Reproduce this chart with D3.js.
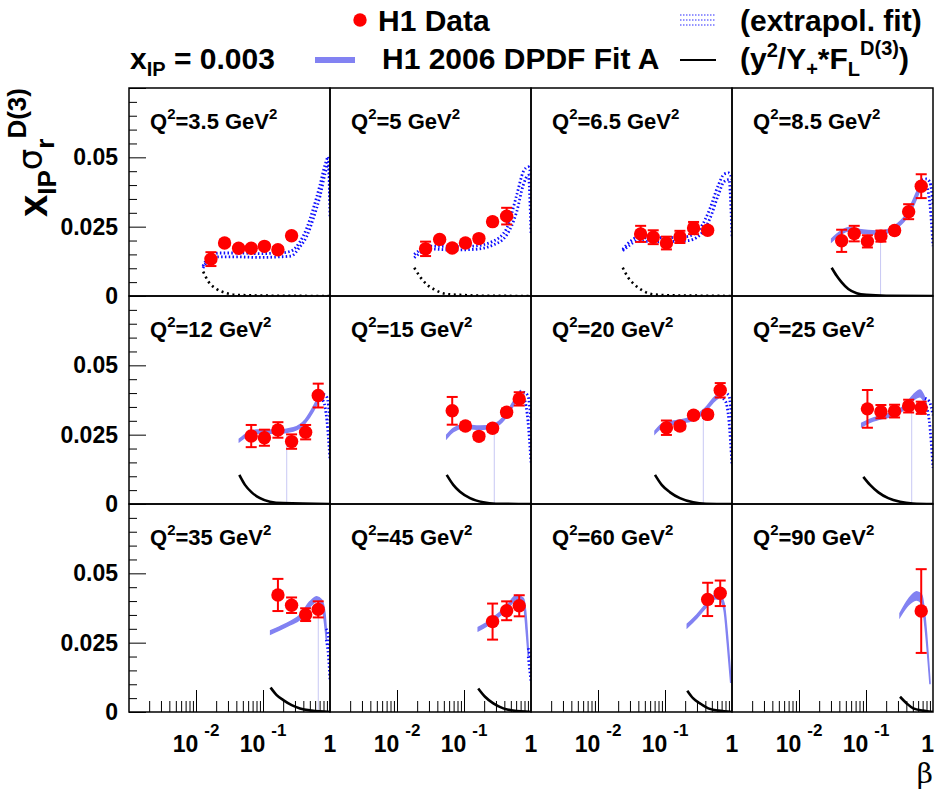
<!DOCTYPE html>
<html>
<head>
<meta charset="utf-8">
<script src="https://cdn.jsdelivr.net/npm/d3@7"></script>
<style>
  body { margin: 0; background: #fff; }
  svg { font-family: "Liberation Sans", Arial, Helvetica, sans-serif; font-weight: bold; }
</style>
</head>
<body>
<div id="chart"></div>
<script>
// Q2 bins, one panel each (x_IP = 0.003)
const q2Values = ["3.5", "5", "6.5", "8.5", "12", "15", "20", "25", "35", "45", "60", "90"];

// H1 data points per panel
const dataBeta = [
    [0.0167, 0.0267, 0.0433, 0.0667, 0.105, 0.167, 0.267],
    [0.0267, 0.0433, 0.0667, 0.105, 0.167, 0.267, 0.433],
    [0.0433, 0.0667, 0.105, 0.167, 0.267, 0.433],
    [0.0433, 0.0667, 0.105, 0.167, 0.267, 0.433, 0.667],
    [0.0667, 0.105, 0.167, 0.267, 0.433, 0.667],
    [0.0667, 0.105, 0.167, 0.267, 0.433, 0.667],
    [0.105, 0.167, 0.267, 0.433, 0.667],
    [0.105, 0.167, 0.267, 0.433, 0.667],
    [0.167, 0.267, 0.433, 0.667],
    [0.267, 0.433, 0.667],
    [0.433, 0.667],
    [0.667]
];
const dataSigma = [
    [0.0133, 0.0191, 0.0172, 0.0172, 0.0179, 0.0167, 0.0217],
    [0.0170, 0.0204, 0.0173, 0.0191, 0.0207, 0.0268, 0.0288],
    [0.0224, 0.0212, 0.0191, 0.0213, 0.0245, 0.0237],
    [0.0199, 0.0225, 0.0197, 0.0216, 0.0236, 0.0304, 0.0396],
    [0.0245, 0.0239, 0.0267, 0.0225, 0.0259, 0.0391],
    [0.0336, 0.0281, 0.0244, 0.0273, 0.0331, 0.0379],
    [0.0275, 0.0281, 0.0320, 0.0323, 0.0410],
    [0.0343, 0.0333, 0.0335, 0.0353, 0.0347],
    [0.0422, 0.0385, 0.0351, 0.0370],
    [0.0326, 0.0365, 0.0383],
    [0.0406, 0.0428],
    [0.0364]
];
const dataError = [
    [0.0025, 0.0010, 0.0010, 0.0009, 0.0010, 0.0010, 0.0011],
    [0.0026, 0.0010, 0.0010, 0.0010, 0.0011, 0.0012, 0.0030],
    [0.0029, 0.0025, 0.0023, 0.0022, 0.0022, 0.0012],
    [0.0040, 0.0028, 0.0022, 0.0020, 0.0012, 0.0027, 0.0043],
    [0.0040, 0.0029, 0.0028, 0.0026, 0.0026, 0.0043],
    [0.0050, 0.0012, 0.0012, 0.0012, 0.0013, 0.0024],
    [0.0026, 0.0012, 0.0012, 0.0013, 0.0026],
    [0.0068, 0.0024, 0.0023, 0.0023, 0.0022],
    [0.0058, 0.0028, 0.0023, 0.0029],
    [0.0065, 0.0034, 0.0038],
    [0.0060, 0.0046],
    [0.0151]
];

// Fit A band inside the fit range: [beta, low, high]
const fitBand = [
    [], [], [],
    [[0.0307, 0.0196, 0.0206], [0.0409, 0.0220, 0.0232], [0.0544, 0.0234, 0.0246], [0.0912, 0.0226, 0.0238], [0.162, 0.0223, 0.0234], [0.256, 0.0238, 0.0250], [0.405, 0.0282, 0.0298], [0.571, 0.0352, 0.0376], [0.678, 0.0400, 0.0418]],
    [[0.0443, 0.0225, 0.0234], [0.0571, 0.0243, 0.0255], [0.0806, 0.0255, 0.0267], [0.160, 0.0255, 0.0267], [0.283, 0.0263, 0.0275], [0.424, 0.0291, 0.0303], [0.564, 0.0335, 0.0351], [0.701, 0.0381, 0.0396]],
    [[0.0552, 0.0237, 0.0249], [0.0692, 0.0261, 0.0273], [0.0977, 0.0273, 0.0285], [0.173, 0.0269, 0.0281], [0.274, 0.0275, 0.0287], [0.409, 0.0307, 0.0321], [0.544, 0.0354, 0.0369], [0.678, 0.0391, 0.0405]],
    [[0.0709, 0.0254, 0.0263], [0.0944, 0.0279, 0.0291], [0.167, 0.0291, 0.0303], [0.264, 0.0303, 0.0315], [0.395, 0.0331, 0.0345], [0.526, 0.0367, 0.0381], [0.662, 0.0387, 0.0403]],
    [[0.0862, 0.0279, 0.0291], [0.115, 0.0295, 0.0306], [0.162, 0.0306, 0.0318], [0.256, 0.0318, 0.0331], [0.382, 0.0343, 0.0357], [0.508, 0.0375, 0.0393], [0.640, 0.0387, 0.0411], [0.760, 0.0363, 0.0381]],
    [[0.130, 0.0281, 0.0293], [0.179, 0.0296, 0.0308], [0.253, 0.0314, 0.0326], [0.357, 0.0334, 0.0350], [0.503, 0.0380, 0.0398], [0.633, 0.0398, 0.0416], [0.752, 0.0380, 0.0404], [0.842, 0.0308, 0.0356], [0.88, 0.0260, 0.0300]],
    [[0.163, 0.0293, 0.0305], [0.218, 0.0310, 0.0322], [0.308, 0.0338, 0.0350], [0.434, 0.0368, 0.0382], [0.612, 0.0406, 0.0422], [0.767, 0.0392, 0.0410], [0.85, 0.0290, 0.0340], [0.91, 0.0200, 0.0230]],
    [[0.215, 0.0305, 0.0317], [0.297, 0.0338, 0.0350], [0.419, 0.0380, 0.0392], [0.557, 0.0408, 0.0422], [0.662, 0.0406, 0.0422], [0.760, 0.0368, 0.0392], [0.851, 0.0248, 0.0284], [0.957, 0.0105, 0.0125]],
    [[0.322, 0.0344, 0.0356], [0.428, 0.0386, 0.0406], [0.571, 0.0404, 0.0434], [0.678, 0.0392, 0.0422], [0.760, 0.0308, 0.0344], [0.902, 0.0100, 0.0108]]
];

// extrapolated fit (dotted): [beta, low, high]
const extBand = [
    [[0.0127, 0.0101, 0.0108], [0.0156, 0.0130, 0.0141], [0.0220, 0.0141, 0.0155], [0.0438, 0.0141, 0.0155], [0.0871, 0.0139, 0.0153], [0.173, 0.0141, 0.0155], [0.262, 0.0144, 0.0162], [0.357, 0.0178, 0.0196], [0.449, 0.0215, 0.0244], [0.564, 0.0280, 0.0316], [0.709, 0.0360, 0.0400], [0.842, 0.0440, 0.0472], [0.944, 0.0480, 0.0502], [1.0, 0.0281, 0.0346]],
    [[0.0181, 0.0138, 0.0150], [0.0220, 0.0155, 0.0166], [0.0277, 0.0170, 0.0180], [0.0692, 0.0166, 0.0178], [0.138, 0.0168, 0.0180], [0.274, 0.0184, 0.0198], [0.434, 0.0220, 0.0244], [0.612, 0.0304, 0.0364], [0.767, 0.0400, 0.0448], [0.912, 0.0436, 0.0466], [1.0, 0.0226, 0.0436]],
    [[0.0234, 0.0163, 0.0168], [0.0300, 0.0184, 0.0196], [0.0378, 0.0198, 0.0210], [0.0842, 0.0196, 0.0210], [0.211, 0.0199, 0.0214], [0.333, 0.0220, 0.0244], [0.470, 0.0280, 0.0316], [0.625, 0.0364, 0.0400], [0.760, 0.0412, 0.0439], [0.90, 0.0420, 0.0444], [1.0, 0.0214, 0.0420]],
    [[0.678, 0.0400, 0.0418], [0.80, 0.0395, 0.0422], [0.90, 0.0330, 0.0410], [1.0, 0.0180, 0.0330]],
    [[0.701, 0.0381, 0.0396], [0.80, 0.0370, 0.0395], [0.90, 0.0300, 0.0385], [1.0, 0.0160, 0.0300]],
    [[0.678, 0.0391, 0.0405], [0.80, 0.0375, 0.0402], [0.90, 0.0300, 0.0390], [1.0, 0.0150, 0.0300]],
    [[0.662, 0.0387, 0.0403], [0.80, 0.0370, 0.0400], [0.90, 0.0300, 0.0390], [1.0, 0.0140, 0.0290]],
    [[0.760, 0.0363, 0.0381], [0.88, 0.0300, 0.0370], [1.0, 0.0130, 0.0320]],
    [[0.88, 0.0260, 0.0300], [0.95, 0.0200, 0.0270], [1.0, 0.0115, 0.0220]],
    [[0.91, 0.0200, 0.0230], [1.0, 0.0110, 0.0190]],
    [], []
];

// y^2/Y+ * F_L^D(3) contribution: [beta, value]
const flCurve = [
    [[0.0128, 0.0088], [0.0153, 0.0052], [0.0204, 0.0025], [0.0287, 0.0010], [0.0405, 0.0004], [0.08, 0.0002], [0.3, 0.00005], [1, 0]],
    [[0.0181, 0.0102], [0.0220, 0.0070], [0.0277, 0.0042], [0.0371, 0.0022], [0.0552, 0.0007], [0.0871, 0.0004], [0.2, 0.0001], [1, 0]],
    [[0.0234, 0.0102], [0.0283, 0.0066], [0.0357, 0.0040], [0.0474, 0.0018], [0.0669, 0.0006], [0.15, 0.0002], [0.4, 0.0001], [1, 0]],
    [[0.0307, 0.0102], [0.0365, 0.0073], [0.0434, 0.0049], [0.0544, 0.0025], [0.0726, 0.0010], [0.102, 0.0004], [0.2, 0.0001], [1, 0]],
    [[0.0443, 0.0105], [0.0538, 0.0069], [0.0678, 0.0042], [0.0902, 0.0021], [0.127, 0.0008], [0.201, 0.0003], [1, 0]],
    [[0.0552, 0.0105], [0.0692, 0.0069], [0.0871, 0.0044], [0.123, 0.0021], [0.194, 0.0006], [0.30, 0.0001], [1, 0]],
    [[0.0709, 0.0105], [0.0893, 0.0069], [0.119, 0.0042], [0.167, 0.0021], [0.264, 0.0006], [0.41, 0.0001], [1, 0]],
    [[0.0912, 0.0098], [0.115, 0.0069], [0.153, 0.0042], [0.215, 0.0021], [0.322, 0.0008], [0.5, 0.0002], [1, 0]],
    [[0.130, 0.0088], [0.160, 0.0061], [0.201, 0.0043], [0.268, 0.0025], [0.357, 0.0013], [0.533, 0.0005], [1, 0]],
    [[0.163, 0.0085], [0.206, 0.0055], [0.274, 0.0031], [0.386, 0.0013], [0.544, 0.0005], [1, 0]],
    [[0.215, 0.0077], [0.264, 0.0049], [0.333, 0.0031], [0.443, 0.0013], [0.625, 0.0005], [1, 0]],
    [[0.322, 0.0055], [0.405, 0.0031], [0.508, 0.0013], [0.716, 0.0005], [1, 0]]
];
const flExtrapolated = [true, true, true, false, false, false, false, false, false, false, false, false];

// thin vertical edge of the band polygon: [beta, top value] or null
const bandEdge = [null, null, null, [0.165, 0.0196], [0.226, 0.0245], [0.283, 0.0275], [0.373, 0.0335], [0.481, 0.0375], [0.668, 0.041], null, null, null];

// axis ticks
const yTickValues = [0, 0.025, 0.05];
const yTickLabels = ["0", "0.025", "0.05"];
const xMajorTicks = [0.01, 0.1];
const xLabelBase = ["10", "10", "1"];
const xLabelExp = ["-2", "-1", ""];
const xLabelAt = [0.01, 0.1, 1];

// layout
const W = 935, H = 790;
const gridLeft = 129, gridTop = 88, panelW = 201, panelH = 208, nCols = 4, nRows = 3;
const fitColor = "#8282f2", extColor = "#0c0cff", dataColor = "#ff0000";

const svg = d3.select("#chart").append("svg")
    .attr("width", W)
    .attr("height", H);

const xScaleFor = col => d3.scaleLog().domain([1e-3, 1])
    .range([gridLeft + col * panelW, gridLeft + (col + 1) * panelW]);
const yScaleFor = row => d3.scaleLinear().domain([0, 0.075])
    .range([gridTop + (row + 1) * panelH, gridTop + row * panelH]);

const defs = svg.append("defs");

q2Values.forEach((q2, i) => {
    const col = i % nCols, row = Math.floor(i / nCols);
    const x = xScaleFor(col), y = yScaleFor(row);
    const x0 = x.range()[0], yTop = y.range()[1], yBot = y.range()[0];

    defs.append("clipPath").attr("id", "clip" + i)
        .append("rect").attr("x", x0).attr("y", yTop).attr("width", panelW).attr("height", panelH);

    const g = svg.append("g");
    const inner = g.append("g").attr("clip-path", `url(#clip${i})`);

    const area = d3.area().x(d => x(d[0])).y0(d => y(d[1])).y1(d => y(d[2])).curve(d3.curveMonotoneX);
    const lowLine = d3.line().x(d => x(d[0])).y(d => y(d[1])).curve(d3.curveMonotoneX);
    const highLine = d3.line().x(d => x(d[0])).y(d => y(d[2])).curve(d3.curveMonotoneX);
    const flLine = d3.line().x(d => x(d[0])).y(d => y(d[1])).curve(d3.curveMonotoneX);

    // band edge
    if (bandEdge[i]) {
        inner.append("line")
            .attr("x1", x(bandEdge[i][0])).attr("x2", x(bandEdge[i][0]))
            .attr("y1", y(bandEdge[i][1])).attr("y2", yBot)
            .attr("stroke", "#c8c8f4").attr("stroke-width", 1);
    }

    // fitted band
    if (fitBand[i].length) {
        inner.append("path").datum(fitBand[i])
            .attr("d", area)
            .attr("fill", fitColor)
            .attr("stroke", fitColor)
            .attr("stroke-width", 1.5);
    }

    // extrapolated band
    if (extBand[i].length) {
        [lowLine, highLine].forEach(l => {
            inner.append("path").datum(extBand[i])
                .attr("d", l)
                .attr("fill", "none")
                .attr("stroke", extColor)
                .attr("stroke-width", 2.8)
                .attr("stroke-dasharray", "1.5,2.3");
        });
    }

    // F_L curve
    inner.append("path").datum(flCurve[i])
        .attr("d", flLine)
        .attr("fill", "none")
        .attr("stroke", "#000")
        .attr("stroke-width", flExtrapolated[i] ? 2.6 : 2.6)
        .attr("stroke-dasharray", flExtrapolated[i] ? "2,3.6" : null);

    // data points with error bars
    const pts = dataBeta[i].map((b, k) => ({ b, v: dataSigma[i][k], e: dataError[i][k] }));
    const bars = g.selectAll(".err" + i).data(pts).enter().append("g");
    bars.append("line")
        .attr("x1", d => x(d.b)).attr("x2", d => x(d.b))
        .attr("y1", d => y(d.v - d.e)).attr("y2", d => y(d.v + d.e))
        .attr("stroke", dataColor).attr("stroke-width", 2);
    bars.append("line")
        .attr("x1", d => x(d.b) - 5.5).attr("x2", d => x(d.b) + 5.5)
        .attr("y1", d => y(d.v - d.e)).attr("y2", d => y(d.v - d.e))
        .attr("stroke", dataColor).attr("stroke-width", 2);
    bars.append("line")
        .attr("x1", d => x(d.b) - 5.5).attr("x2", d => x(d.b) + 5.5)
        .attr("y1", d => y(d.v + d.e)).attr("y2", d => y(d.v + d.e))
        .attr("stroke", dataColor).attr("stroke-width", 2);
    bars.append("circle")
        .attr("cx", d => x(d.b)).attr("cy", d => y(d.v))
        .attr("r", 6.7)
        .attr("fill", dataColor);

    // Q2 label
    const lab = g.append("text")
        .attr("x", x0 + 21).attr("y", yTop + 41)
        .attr("font-size", 22);
    lab.append("tspan").text("Q");
    lab.append("tspan").attr("font-size", 15).attr("dy", -10).text("2");
    lab.append("tspan").attr("dy", 10).text("=" + q2 + " GeV");
    lab.append("tspan").attr("font-size", 15).attr("dy", -10).text("2");

    // y axis on first column
    if (col === 0) {
        const minor = d3.range(0, 0.0751, 0.005).filter(v => Math.abs(v / 0.025 - Math.round(v / 0.025)) > 1e-6);
        g.append("g").attr("transform", `translate(${x0},0)`)
            .call(d3.axisRight(y).tickValues(minor).tickSize(8).tickFormat(""))
            .call(a => a.select(".domain").remove());
        g.append("g").attr("transform", `translate(${x0},0)`)
            .call(d3.axisRight(y).tickValues([0, 0.025, 0.05, 0.075]).tickSize(17).tickFormat(""))
            .call(a => a.select(".domain").remove());
        g.append("g").attr("transform", `translate(${x0},0)`)
            .call(d3.axisLeft(y).tickValues(yTickValues).tickSize(0).tickPadding(11)
                .tickFormat((d, k) => yTickLabels[k]))
            .call(a => a.select(".domain").remove())
            .attr("font-size", 23)
            .attr("font-family", "Liberation Sans, Arial, sans-serif")
            .attr("font-weight", "bold");
    }

    // x axis on bottom row
    if (row === nRows - 1) {
        const minor = [];
        [1e-3, 1e-2, 1e-1].forEach(dec => d3.range(2, 10).forEach(m => minor.push(dec * m)));
        g.append("g").attr("transform", `translate(0,${yBot})`)
            .call(d3.axisTop(x).tickValues(minor).tickSize(11).tickFormat(""))
            .call(a => a.select(".domain").remove());
        g.append("g").attr("transform", `translate(0,${yBot})`)
            .call(d3.axisTop(x).tickValues(xMajorTicks).tickSize(22).tickFormat(""))
            .call(a => a.select(".domain").remove());
        xLabelAt.forEach((v, k) => {
            const atEdge = x(v) + 8 > W;
            const t = g.append("text")
                .attr("x", atEdge ? W - 1 : x(v)).attr("y", yBot + 40)
                .attr("text-anchor", atEdge ? "end" : "middle")
                .attr("font-size", 23);
            t.append("tspan").text(xLabelBase[k]);
            if (xLabelExp[k]) {
                t.append("tspan").attr("dx", 6).attr("dy", -16).attr("font-size", 17).text(xLabelExp[k]);
            }
        });
    }

    // frame
    g.append("rect")
        .attr("x", x0).attr("y", yTop).attr("width", panelW).attr("height", panelH)
        .attr("fill", "none").attr("stroke", "#000").attr("stroke-width", 1.5);
});

// y-axis title
const yTitle = svg.append("text")
    .attr("transform", "translate(47,88) rotate(-90)")
    .attr("text-anchor", "end")
    .attr("font-size", 40);
yTitle.append("tspan").text("x");
yTitle.append("tspan").attr("font-size", 26).attr("dy", 9).text("IP");
yTitle.append("tspan").attr("font-size", 34).attr("dy", -14).attr("font-family", "DejaVu Sans").attr("font-weight", "normal").text("σ");
yTitle.append("tspan").attr("font-size", 26).attr("dy", 12).text("r");
yTitle.append("tspan").attr("font-size", 26).attr("dy", -28).text("D(3)");

// x-axis title
svg.append("text")
    .attr("x", 933).attr("y", 783)
    .attr("text-anchor", "end")
    .attr("font-family", "DejaVu Serif, Liberation Serif, serif")
    .attr("font-weight", "normal")
    .attr("font-size", 28)
    .text("β");

// legend
const legend = svg.append("g").attr("font-size", 30);
legend.append("circle").attr("cx", 360).attr("cy", 20).attr("r", 6.7).attr("fill", dataColor);
legend.append("text").attr("x", 378).attr("y", 31).text("H1 Data");

[15, 20, 25].forEach(yy => {
    legend.append("line")
        .attr("x1", 680).attr("x2", 716).attr("y1", yy).attr("y2", yy)
        .attr("stroke", "#7070ff").attr("stroke-width", 1.6)
        .attr("stroke-dasharray", "1.5,1.5");
});
legend.append("text").attr("x", 740).attr("y", 31).text("(extrapol. fit)");

const xip = legend.append("text").attr("x", 130).attr("y", 69);
xip.append("tspan").text("x");
xip.append("tspan").attr("font-size", 20).attr("dy", 7).text("IP");
xip.append("tspan").attr("dy", -7).text(" = 0.003");

legend.append("line")
    .attr("x1", 315).attr("x2", 355).attr("y1", 60).attr("y2", 60)
    .attr("stroke", fitColor).attr("stroke-width", 6);
legend.append("text").attr("x", 382).attr("y", 69).text("H1 2006 DPDF Fit A");

legend.append("line")
    .attr("x1", 680).attr("x2", 716).attr("y1", 60).attr("y2", 60)
    .attr("stroke", "#000").attr("stroke-width", 2);
const flt = legend.append("text").attr("x", 740).attr("y", 69);
flt.append("tspan").text("(y");
flt.append("tspan").attr("font-size", 20).attr("dy", -12).text("2");
flt.append("tspan").attr("dy", 12).text("/Y");
flt.append("tspan").attr("font-size", 20).attr("dy", 7).text("+");
flt.append("tspan").attr("dy", -7).text("*F");
flt.append("tspan").attr("font-size", 20).attr("dy", 7).text("L");
flt.append("tspan").attr("font-size", 20).attr("dy", -21).text("D(3)");
flt.append("tspan").attr("dy", 14).text(")");
</script>
</body>
</html>
